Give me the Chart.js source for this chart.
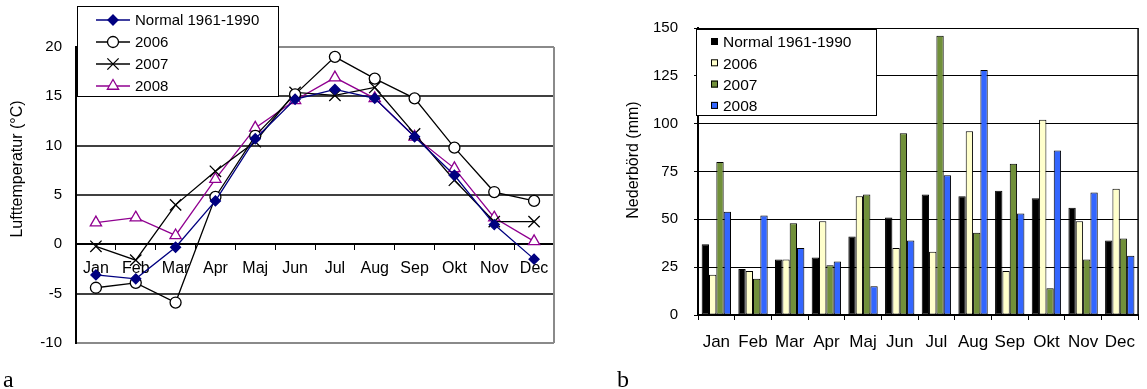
<!DOCTYPE html>
<html>
<head>
<meta charset="utf-8">
<script src="https://cdn.jsdelivr.net/npm/chart.js@4/dist/chart.umd.min.js"></script>
<style>
    body { margin: 0; background: #fff; width: 1147px; height: 389px; overflow: hidden; position: relative; }
    #temp-chart { position: absolute; left: 0; top: 0; }
    #rain-chart { position: absolute; left: 570px; top: 0; }
    .panel-label { position: absolute; font: 24px 'Liberation Serif', 'Times New Roman', serif; line-height: 24px; color: #000; }
</style>
</head>
<body>
<canvas id="temp-chart" width="560" height="389"></canvas>
<canvas id="rain-chart" width="577" height="389"></canvas>
<div class="panel-label" style="left:3px; top:367px">a</div>
<div class="panel-label" style="left:617px; top:367px">b</div>
<script>
const months = ['Jan', 'Feb', 'Mar', 'Apr', 'Maj', 'Jun', 'Jul', 'Aug', 'Sep', 'Okt', 'Nov', 'Dec']
const series_names = ['Normal 1961-1990', '2006', '2007', '2008']

// Lufttemperatur (°C)
const temp_normal = [-3.1, -3.5, -0.3, 4.4, 10.7, 14.7, 15.7, 14.8, 10.9, 7.0, 2.0, -1.5]
const temp_2006 = [-4.4, -3.9, -5.9, 4.8, 11.0, 15.2, 19.0, 16.8, 14.8, 9.8, 5.3, 4.4]
const temp_2007 = [-0.2, -1.6, 4.0, 7.4, 10.4, 15.4, 15.1, 15.9, 11.2, 6.5, 2.3, 2.3]
const temp_2008 = [2.2, 2.7, 0.9, 6.6, 11.8, 14.6, 16.9, 14.8, 10.9, 7.7, 2.7, 0.3]

// Nederbörd (mm)
const rain_normal = [37, 24, 29, 30, 41, 51, 63, 62, 65, 61, 56, 39]
const rain_2006 = [21, 23, 29, 49, 62, 35, 33, 96, 23, 102, 49, 66]
const rain_2007 = [80, 19, 48, 26, 63, 95, 146, 43, 79, 14, 29, 40]
const rain_2008 = [54, 52, 35, 28, 15, 39, 73, 128, 53, 86, 64, 31]

Chart.defaults.font.family = "Arial, 'Liberation Sans', sans-serif"
Chart.defaults.color = '#000'
Chart.defaults.animation = false

// rotated axis title, placed where the original has it
const side_title = {
    id: 'sideTitle',
    afterDraw(chart, args, opts) {
        const ctx = chart.ctx
        ctx.save()
        ctx.translate(opts.x, opts.y)
        ctx.rotate(-Math.PI / 2)
        ctx.font = opts.size + "px Arial, 'Liberation Sans', sans-serif"
        ctx.fillStyle = '#000'
        ctx.textAlign = 'center'
        ctx.textBaseline = 'middle'
        ctx.fillText(opts.text, 0, 0)
        ctx.restore()
    },
}

// frame on the right side of the plot
const area_frame = {
    id: 'areaFrame',
    beforeDatasetsDraw(chart, args, opts) {
        const { top, right, bottom } = chart.chartArea
        const ctx = chart.ctx
        ctx.save()
        ctx.strokeStyle = opts.color
        ctx.lineWidth = opts.width
        ctx.beginPath()
        ctx.moveTo(right, top)
        ctx.lineTo(right, bottom)
        ctx.stroke()
        ctx.restore()
    },
}

const temp_legend = {
    id: 'tempLegend',
    afterDraw(chart) {
        const ctx = chart.ctx
        ctx.save()
        ctx.fillStyle = '#fff'
        ctx.fillRect(77, 6, 201, 90)
        ctx.strokeStyle = '#000'
        ctx.lineWidth = 1
        ctx.strokeRect(77.5, 6.5, 201, 90)
        chart.data.datasets.forEach((ds, i) => {
            const y = 20 + i * 22
            ctx.strokeStyle = ds.borderColor
            ctx.lineWidth = ds.borderWidth
            ctx.beginPath()
            ctx.moveTo(96, y)
            ctx.lineTo(130, y)
            ctx.stroke()
            ctx.fillStyle = ds.pointBackgroundColor
            ctx.strokeStyle = ds.pointBorderColor
            ctx.lineWidth = ds.pointBorderWidth
            Chart.helpers.drawPoint(ctx, {
                pointStyle: ds.pointStyle,
                radius: ds.pointRadius,
                borderWidth: ds.pointBorderWidth,
                rotation: 0,
            }, 113, y)
            ctx.fillStyle = '#000'
            ctx.font = "15px Arial, 'Liberation Sans', sans-serif"
            ctx.textBaseline = 'middle'
            ctx.fillText(ds.label, 135, y + 1)
        })
        ctx.restore()
    },
}

const rain_legend = {
    id: 'rainLegend',
    afterDraw(chart) {
        const ctx = chart.ctx
        ctx.save()
        ctx.fillStyle = '#fff'
        ctx.fillRect(126, 29, 180, 86)
        ctx.strokeStyle = '#000'
        ctx.lineWidth = 1
        ctx.strokeRect(126.5, 29.5, 180, 86)
        chart.data.datasets.forEach((ds, i) => {
            const y = 42 + i * 21.3
            ctx.fillStyle = ds.backgroundColor
            ctx.fillRect(141, y - 4, 7, 7)
            ctx.strokeStyle = '#000'
            ctx.strokeRect(141.5, y - 3.5, 6, 6)
            ctx.fillStyle = '#000'
            ctx.font = "15.5px Arial, 'Liberation Sans', sans-serif"
            ctx.textBaseline = 'middle'
            ctx.fillText(ds.label, 153, y + 1)
        })
        ctx.restore()
    },
}

const temperature_chart = () => {
    const ctx = document.getElementById('temp-chart')

    const line = (label, data, color, style, radius, fill) => ({
        label: label,
        data: data,
        borderColor: color,
        borderWidth: 1.3,
        pointStyle: style,
        pointRadius: radius,
        pointHoverRadius: radius,
        pointBackgroundColor: fill,
        pointBorderColor: color,
        pointBorderWidth: 1.3,
        tension: 0,
    })

    new Chart(ctx, {
        type: 'line',
        data: {
            labels: months,
            datasets: [
                line(series_names[0], temp_normal, '#000080', 'rectRot', 5, '#000080'),
                line(series_names[1], temp_2006, '#000000', 'circle', 5.5, '#ffffff'),
                line(series_names[2], temp_2007, '#000000', 'crossRot', 8, '#000000'),
                line(series_names[3], temp_2008, '#900090', 'triangle', 6.5, '#ffffff'),
            ],
        },
        options: {
            responsive: false,
            layout: { autoPadding: false, padding: { left: 0, top: 47, right: 6, bottom: 46 } },
            scales: {
                x: {
                    position: { y: 0 },
                    offset: true,
                    grid: { drawOnChartArea: false, drawTicks: true, tickLength: 5, color: '#000', offset: true },
                    border: { color: '#000', width: 2 },
                    ticks: { padding: 10, font: { size: 16 }, maxRotation: 0, autoSkip: false },
                },
                y: {
                    min: -10,
                    max: 20,
                    ticks: { stepSize: 5, padding: 14, font: { size: 15 } },
                    grid: {
                        drawTicks: false,
                        lineWidth: 2,
                        color: c => (c.tick.value === 20 || c.tick.value === -10) ? '#8a8a8a' : (c.tick.value === 0 ? '#000' : '#404040'),
                    },
                    border: { color: '#000', width: 2 },
                    afterFit: s => { s.width = 76 },
                },
            },
            plugins: {
                legend: { display: false },
                tooltip: { enabled: false },
                sideTitle: { text: 'Lufttemperatur (°C)', x: 18, y: 169, size: 16 },
                areaFrame: { color: '#8a8a8a', width: 2 },
            },
        },
        plugins: [side_title, area_frame, temp_legend],
    })
}

const precipitation_chart = () => {
    const ctx = document.getElementById('rain-chart')

    const bars = (label, data, color) => ({
        label: label,
        data: data,
        backgroundColor: color,
        borderColor: '#000',
        borderWidth: 1,
        borderSkipped: false,
    })

    new Chart(ctx, {
        type: 'bar',
        data: {
            labels: months,
            datasets: [
                bars(series_names[0], rain_normal, '#000000'),
                bars(series_names[1], rain_2006, '#ffffcc'),
                bars(series_names[2], rain_2007, '#71903a'),
                bars(series_names[3], rain_2008, '#3366ff'),
            ],
        },
        options: {
            responsive: false,
            categoryPercentage: 0.8,
            barPercentage: 1.0,
            layout: { autoPadding: false, padding: { left: 0, top: 28, right: 3, bottom: 0 } },
            scales: {
                x: {
                    grid: { drawOnChartArea: false, drawTicks: true, tickLength: 5, color: '#000' },
                    border: { color: '#000', width: 2 },
                    ticks: { padding: 12, font: { size: 17 }, maxRotation: 0, autoSkip: false },
                    afterFit: s => { s.height = 74 },
                },
                y: {
                    min: 0,
                    max: 150,
                    ticks: { stepSize: 25, padding: 16, font: { size: 15 } },
                    grid: { color: '#000', lineWidth: 1, drawTicks: true, tickLength: 4 },
                    border: { color: '#000', width: 2 },
                    afterFit: s => { s.width = 128 },
                },
            },
            plugins: {
                legend: { display: false },
                tooltip: { enabled: false },
                sideTitle: { text: 'Nederbörd (mm)', x: 64, y: 160, size: 16 },
                areaFrame: { color: '#000', width: 1.5 },
            },
        },
        plugins: [side_title, area_frame, rain_legend],
    })
}

temperature_chart()
precipitation_chart()
</script>
</body>
</html>
